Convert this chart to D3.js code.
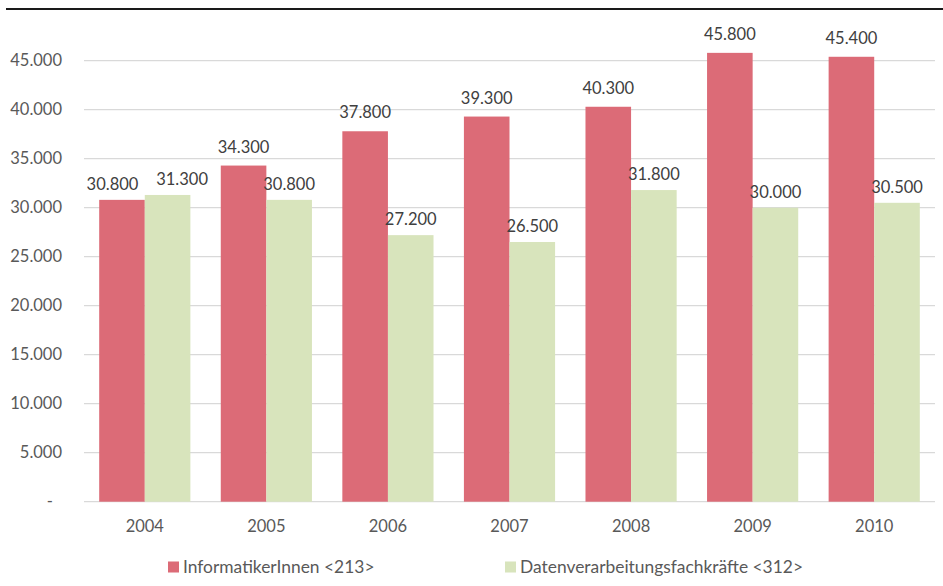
<!DOCTYPE html>
<html><head><meta charset="utf-8">
<script src="https://cdn.jsdelivr.net/npm/d3@7/dist/d3.min.js"></script>
<style>body{margin:0;background:#fff;}svg{display:block;font-family:Lato,"Open Sans",sans-serif;}</style>
</head><body>
<script>
const years = ["2004","2005","2006","2007","2008","2009","2010"];
const informatiker = [30800,34300,37800,39300,40300,45800,45400];
const datenverarbeitung = [31300,30800,27200,26500,31800,30000,30500];
const seriesNames = ["InformatikerInnen <213>","Datenverarbeitungsfachkräfte <312>"];
const seriesColors = ["#DC6B77","#D8E4BC"];
const yTicks = [0,5000,10000,15000,20000,25000,30000,35000,40000,45000];

const W=943,H=586;
const svg=d3.select("body").append("svg").attr("width",W).attr("height",H);
const pL=84,pR=935,pT=11.7,pB=501.7;
const x=d3.scaleBand().domain(years).range([pL,pR]).paddingInner(0.25).paddingOuter(0.125);
const x1=d3.scaleBand().domain([0,1]).range([0,x.bandwidth()]);
const y=d3.scaleLinear().domain([0,50000]).range([pB,pT]);
const fmt=v=>v===0?"-":d3.format(",")(v).replace(/,/g,".");
const textCol="#595959";

// top border line
svg.append("line").attr("x1",6).attr("x2",W).attr("y1",9).attr("y2",9).attr("stroke","#1a1a1a").attr("stroke-width",2);

// gridlines
svg.append("g").selectAll("line").data(yTicks).join("line")
  .attr("x1",pL).attr("x2",pR).attr("y1",d=>y(d)).attr("y2",d=>y(d))
  .attr("stroke","#d9d9d9").attr("stroke-width",1.3);

// y labels
svg.append("g").selectAll("text").data(yTicks).join("text")
  .attr("x",d=>d===0?53:62).attr("y",d=>y(d)).attr("dy","0.35em")
  .attr("text-anchor","end").attr("fill",textCol).attr("font-size",16.5).text(fmt);

const series=[informatiker,datenverarbeitung];
const offs=[13,10];
series.forEach((vals,si)=>{
  svg.append("g").selectAll("rect").data(vals).join("rect")
    .attr("x",(d,i)=>x(years[i])+x1(si)).attr("width",x1.bandwidth())
    .attr("y",d=>y(d)).attr("height",d=>y(0)-y(d)).attr("fill",seriesColors[si]);
});

// data labels with simple collision avoidance
const lblG=svg.append("g");
years.forEach((yr,i)=>{
  let ly=[y(informatiker[i])-offs[0], y(datenverarbeitung[i])-offs[1]];
  let lx=[0,1].map(si=>x(yr)+x1(si)+x1.bandwidth()/2);
  const overlap=Math.abs(ly[0]-ly[1])<18;
  if(overlap){
    ly[0]=y(informatiker[i])-10;
    lx[0]-=9.5; lx[1]+=14.5;
  }
  [informatiker[i],datenverarbeitung[i]].forEach((v,si)=>{
    lblG.append("text").attr("x",lx[si]).attr("y",ly[si])
      .attr("text-anchor","middle").attr("fill","#404040").attr("font-size",16.5).text(fmt(v));
  });
});

// x labels
svg.append("g").selectAll("text").data(years).join("text")
  .attr("x",d=>x(d)+x.bandwidth()/2).attr("y",532)
  .attr("text-anchor","middle").attr("fill",textCol).attr("font-size",16.5).text(d=>d);

// legend
const legX=[168,505];
seriesNames.forEach((n,i)=>{
  svg.append("rect").attr("x",legX[i]).attr("y",561.5).attr("width",11).attr("height",11).attr("fill",seriesColors[i]);
  svg.append("text").attr("x",legX[i]+15).attr("y",567).attr("dy","0.35em").attr("fill",textCol).attr("font-size",17.4).text(n);
});
</script>
</body></html>
